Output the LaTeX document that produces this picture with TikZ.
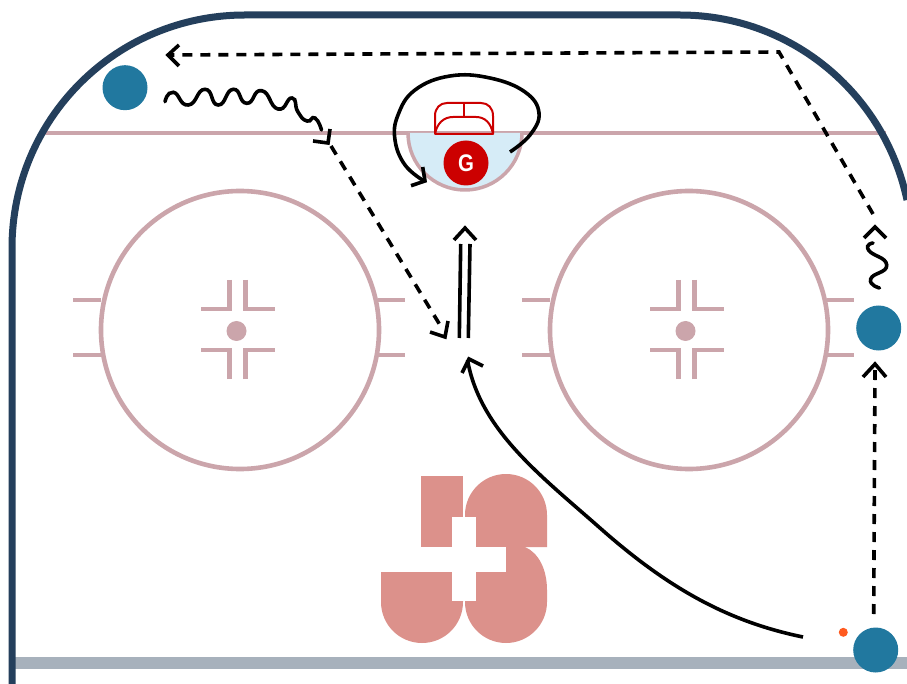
\documentclass[tikz,border=0pt]{standalone}
\usepackage{fontspec}
\setmainfont{Liberation Sans}
\definecolor{board}{HTML}{243F5C}
\definecolor{rinkline}{HTML}{CBA5AB}
\definecolor{crease}{HTML}{D6ECF7}
\definecolor{goalred}{HTML}{CC0000}
\definecolor{player}{HTML}{21789F}
\definecolor{puck}{HTML}{FF5A1F}
\definecolor{goalline}{HTML}{A7B1BC}
\definecolor{logo}{HTML}{DC918B}
\tikzset{
  x=1pt,y=-1pt,
  rinkstroke/.style={draw=rinkline,line width=4.6pt},
  playernode/.style={circle,fill=player,minimum size=45pt,inner sep=0pt,outer sep=0pt},
  skate/.style={black,line width=3.6pt},
  chevron/.style={black,line width=3.6pt,line join=miter},
  dashrun/.style={skate,dash pattern=on 10pt off 8pt},
}
\newcommand{\chev}[3]{\draw[chevron] #2 -- #1 -- #3;}
\newcommand{\faceoffcircle}[1]{%
  \begin{scope}[xshift=#1pt]
    \draw[rinkstroke] (240,330) circle (139);
    \draw[rinkstroke] (73,300)--(101,300) (73,355)--(101,355);
    \draw[rinkstroke] (378,300)--(405,300) (378,355)--(405,355);
    \fill[rinkline] (236.5,331) circle (10);
    \draw[rinkstroke] (229.5,280)--(229.5,309)--(201,309);
    \draw[rinkstroke] (245.5,280)--(245.5,309)--(275,309);
    \draw[rinkstroke] (229.5,379)--(229.5,350)--(201,350);
    \draw[rinkstroke] (245.5,379)--(245.5,350)--(275,350);
  \end{scope}}
\begin{document}
\begin{tikzpicture}
\useasboundingbox (0,0) rectangle (907,684);
\clip (0,0) rectangle (907,684);
\fill[white] (0,0) rectangle (907,684);
% blue line and boards
\draw[draw=rinkline,line width=3.5pt] (42,133)--(886,133);
\fill[goalline] (15,657) rectangle (907,669);
\draw[board,line width=7pt] (12,684)--(12,248) .. controls (12,119) and (116,15) .. (245,15)
  -- (680,15) .. controls (790,15) and (884,92) .. (907,200);
% circles
\faceoffcircle{0}
\faceoffcircle{449}
% crease and goal
\draw[draw=rinkline,line width=3.5pt,fill=crease] (408,133) arc[start angle=180,end angle=0,radius=57];
\fill[crease] (410,133) rectangle (520,134.5);
\draw[goalred,line width=2pt,line join=round] (435,134) -- (435,116) .. controls (435,108) and (440,103) .. (447,103)
  -- (481,103) .. controls (488,103) and (493,108) .. (493,116) -- (493,134) -- cycle;
\draw[goalred,line width=2pt] (435,134) .. controls (437,123) and (444,117) .. (453,117) -- (476,117) .. controls (485,117) and (491,123) .. (493,134);
\draw[goalred,line width=2pt] (464,103)--(464,117);
\node[circle,fill=goalred,minimum size=45pt,inner sep=0pt,text=white,font=\fontsize{24}{24}\selectfont\bfseries] (goalie) at (466,163) {\scalebox{0.85}[1]{G}};
% logo
\fill[logo] (421,476) rectangle (463,547);
\fill[logo] (465,547) -- (465,515) arc[start angle=180,end angle=360,radius=41] -- (547,547) -- cycle;
\fill[logo] (381,572) -- (463,572) -- (463,602) arc[start angle=0,end angle=180,radius=41] -- cycle;
\fill[logo] (465,572) -- (506,572) -- (506,547) -- (525,547) .. controls (539,553) and (547,570) .. (547,590)
  -- (547,602) arc[start angle=0,end angle=180,radius=41] -- cycle;
\fill[white] (452,517) rectangle (476,601);
\fill[white] (452,547) rectangle (506,572);
% players
\node[playernode] (pA) at (125,87.7) {};
\node[playernode] (pB) at (878.7,328) {};
\node[playernode] (pC) at (875.7,650) {};
\node[circle,fill=puck,minimum size=9pt,inner sep=0pt] (puck) at (843.3,632.3) {};
% named path ends
\coordinate (turn) at (779,52);
\coordinate (lefttip) at (168,55);
\coordinate (dashStart) at (873,214);
\coordinate (wavyTip) at (328,143);
\coordinate (wavyDash) at (331,146);
\coordinate (dashTip) at (440,325);
\coordinate (shotStart) at (803,637);
\coordinate (shotMid) at (600,528);
\coordinate (shotTip) at (467.5,360);
\coordinate (rightFrom) at (873.7,614);
\coordinate (rightTip) at (875,368);
\coordinate (dblLb) at (459.3,338);
\coordinate (dblLt) at (460.7,244);
\coordinate (dblRb) at (468.3,338);
\coordinate (dblRt) at (470,244);
% dashed runs
\draw[dashrun] (dashStart) -- (turn) -- (lefttip);
\chev{(lefttip)}{(179,45)}{(179,66)}
\draw[dashrun] (wavyDash) -- (dashTip);
\chev{(wavyTip)}{(330,129)}{(313,141)}
\chev{(445,337)}{(448,321)}{(430,332)}
\draw[dashrun] (rightFrom) -- (rightTip);
\chev{(875,364)}{(863,377)}{(886,377)}
% wavy right run
\draw[skate,line cap=round] plot[smooth,tension=1] coordinates {(879.5,288) (870.7,279) (886.7,265) (868.5,250) (873,243)};
\chev{(875,227)}{(864,238)}{(886,238)}
% wavy top-left
\draw[skate,line cap=round] plot[smooth,tension=1] coordinates {(165,101.7) (173.3,92.3) (188.3,105) (205,89.3) (218.3,105) (233.3,89.3) (246.7,103.3) (261.7,90.7) (278,109) (292,98) (298,112) (307,121) (315,118) (321.5,130)};
% shot
\draw[skate] (shotStart) .. controls (730,622) and (670,590) .. (shotMid) .. controls (540,475) and (480,430) .. (shotTip);
\chev{(469,359)}{(462,373)}{(483,366)}
% goalie loop
\draw[skate] plot[smooth,tension=0.7] coordinates {(510,152) (530,135) (539,113) (525,92) (490,78) (450,76) (415,90) (398,115) (395,140) (405,165) (424,181)};
\chev{(425,181)}{(422.7,167)}{(411,185.7)}
% double line
\draw[skate] (dblLb)--(dblLt) (dblRb)--(dblRt);
\chev{(465,228)}{(454,240)}{(476,240)}
\end{tikzpicture}
\end{document}
